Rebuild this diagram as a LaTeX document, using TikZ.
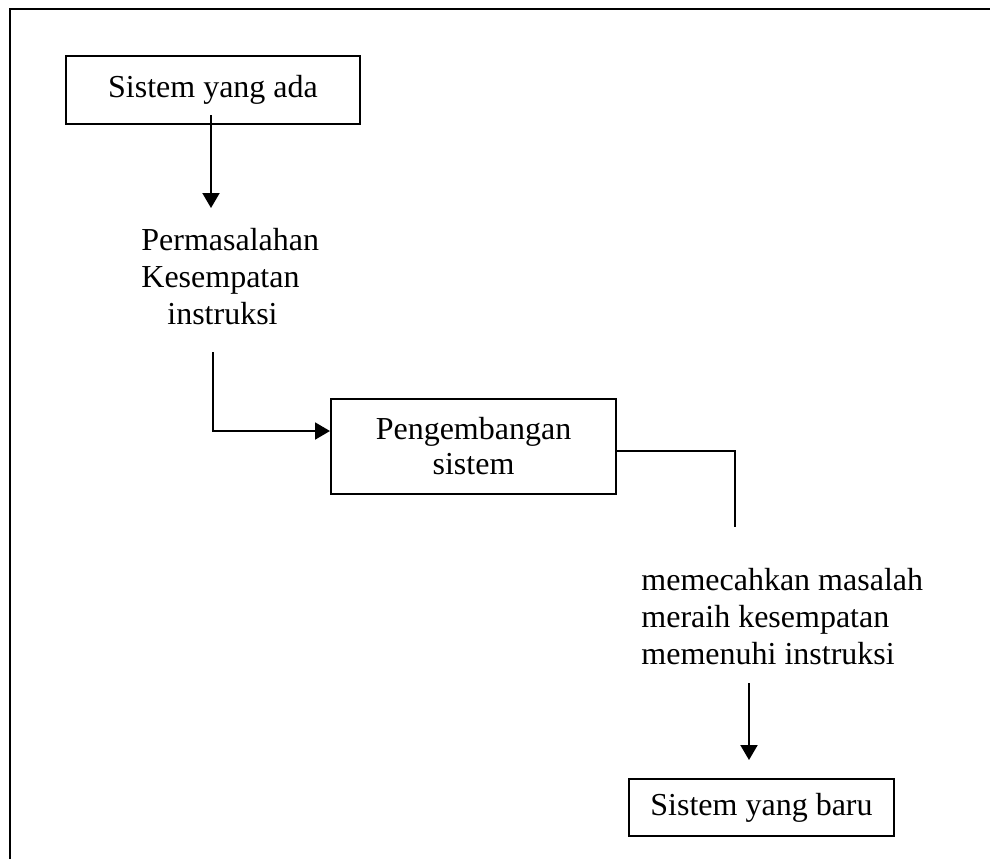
\documentclass[tikz,border=0pt]{standalone}
\usepackage{fontspec}
\setmainfont{Liberation Serif}
\usetikzlibrary{arrows.meta,calc}
\begin{document}
\begin{tikzpicture}[x=0.5pt,y=-0.5pt,
  txtfont/.style={font=\fontsize{16}{18.5}\selectfont},
  flowbox/.style={draw, line width=1pt, inner sep=0pt, align=center, txtfont},
  note/.style={inner sep=0pt, align=left, anchor=north west, txtfont},
  link/.style={line width=1pt},
  arr/.style={link, -{Triangle[length=7.5pt,width=8.5pt]}}]
\useasboundingbox (0,0) rectangle (990,859);

% frame (top and left edges only)
\draw[line width=1.2pt] (10,859) -- (10,9) -- (990,9);

% boxes
\node[flowbox, minimum width=147pt, minimum height=34pt] (old) at (213,89.5) {Sistem yang ada};
\node[flowbox, minimum width=142.5pt, minimum height=47.5pt, font=\fontsize{16}{17.5}\selectfont] (dev) at (473.5,446.5) {Pengembangan\\sistem};
\node[flowbox, minimum width=132.5pt, minimum height=28.5pt] (new) at (761.5,807.5) {Sistem yang baru};

% text blocks
\node[note] (issues) at (141,228) {Permasalahan\\Kesempatan\\\hspace*{13pt}instruksi};
\node[note] (goals) at (641,568) {memecahkan masalah\\meraih kesempatan\\memenuhi instruksi};

% connector end points
\coordinate (a1) at (211,115);
\coordinate (b1) at (211,208);
\coordinate (a2) at (213,352);
\coordinate (b3) at (735,527);
\coordinate (a4) at (749,683);
\coordinate (b4) at (749,760);

% connectors
\draw[arr] (a1) -- (b1);
\draw[arr] (a2) |- ($(dev.west)+(0,-15.5)$);
\draw[link] ($(dev.east)+(0,4.5)$) -| (b3);
\draw[arr] (a4) -- (b4);
\end{tikzpicture}
\end{document}
